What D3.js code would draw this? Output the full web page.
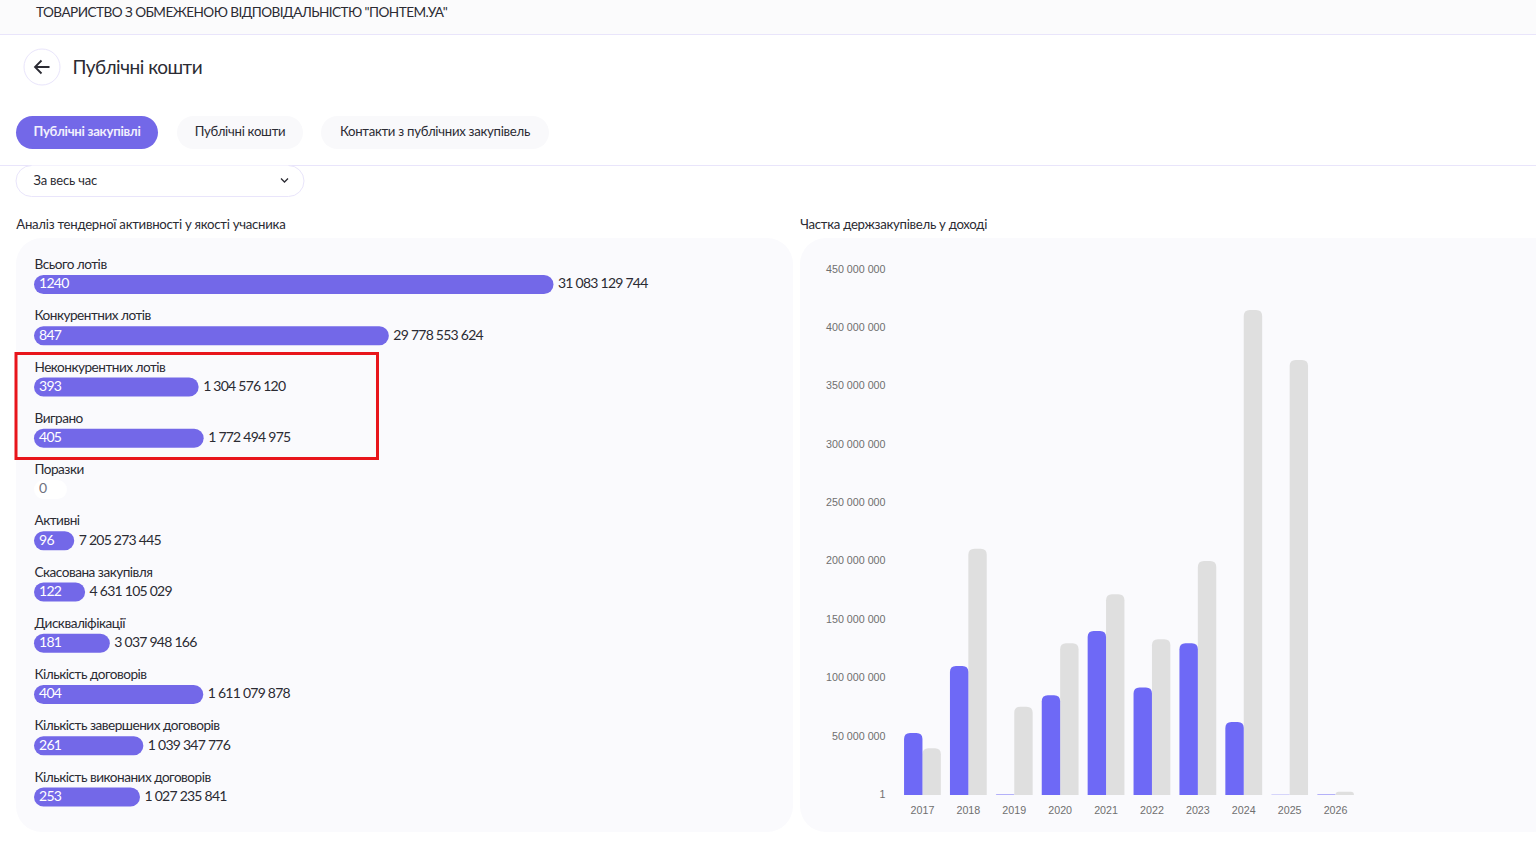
<!DOCTYPE html>
<html lang="uk">
<head>
<meta charset="UTF-8">
<title>Публічні кошти</title>
<script src="https://d3js.org/d3.v7.min.js"></script>
<style>
body { margin: 0; background: #fff; overflow: hidden; }
svg { display: block; }
text { font-family: Lato, sans-serif; fill: #2b2b33; }
.axis text { font-family: "Liberation Sans", Arial, sans-serif; font-size: 10.7px; fill: #6f6f6f; }
.axis path, .axis line { display: none; }
</style>
</head>
<body>
<svg id="page" width="1536" height="857"></svg>
<script>
// lots table
var rowLabels = ["Всього лотів", "Конкурентних лотів", "Неконкурентних лотів", "Виграно", "Поразки", "Активні",
    "Скасована закупівля", "Дискваліфікації", "Кількість договорів", "Кількість завершених договорів", "Кількість виконаних договорів"];
var rowCounts = [1240, 847, 393, 405, 0, 96, 122, 181, 404, 261, 253];
var rowAmounts = ["31 083 129 744", "29 778 553 624", "1 304 576 120", "1 772 494 975", "", "7 205 273 445",
    "4 631 105 029", "3 037 948 166", "1 611 079 878", "1 039 347 776", "1 027 235 841"];

// yearly chart
var years = ["2017", "2018", "2019", "2020", "2021", "2022", "2023", "2024", "2025", "2026"];
var tendersShare = [53000000, 110500000, 500000, 85500000, 140500000, 92000000, 130000000, 62500000, 300000, 400000];
var income = [40000000, 211000000, 75500000, 130000000, 172000000, 133500000, 200500000, 415500000, 372500000, 2700000];
var yTicks = [1, 50000000, 100000000, 150000000, 200000000, 250000000, 300000000, 350000000, 400000000, 450000000];

var tabs = ["Публічні закупівлі", "Публічні кошти", "Контакти з публічних закупівель"];

var svg = d3.select("#page");

// header
svg.append("rect").attr("width", 1536).attr("height", 34).attr("fill", "#fbfbfc");
svg.append("line").attr("x1", 0).attr("x2", 1536).attr("y1", 34.5).attr("y2", 34.5).attr("stroke", "#e9e5fb");
svg.append("text").attr("x", 36).attr("y", 17).attr("font-size", 13.6).attr("letter-spacing", -0.56)
    .text('ТОВАРИСТВО З ОБМЕЖЕНОЮ ВІДПОВІДАЛЬНІСТЮ "ПОНТЕМ.УА"');

svg.append("circle").attr("cx", 42).attr("cy", 67).attr("r", 18).attr("fill", "#fff").attr("stroke", "#e9e5fb");
svg.append("path").attr("d", "M49.5 67H35.5M41.5 60.5L35 67L41.5 73.5").attr("fill", "none").attr("stroke", "#2b2b33").attr("stroke-width", 1.8);
svg.append("text").attr("x", 72.5).attr("y", 74).attr("font-size", 19).attr("letter-spacing", -0.48).text("Публічні кошти");

// tabs
var tabX = [16, 177, 321];
var tabW = [142, 126, 228];
tabs.forEach(function(t, i) {
    svg.append("rect").attr("x", tabX[i]).attr("y", 116).attr("width", tabW[i]).attr("height", 33).attr("rx", 16.5)
        .attr("fill", i == 0 ? "#7368e8" : "#f9f9fb");
    svg.append("text").attr("x", tabX[i] + tabW[i] / 2).attr("y", 136).attr("text-anchor", "middle")
        .attr("font-size", 13.2).attr("letter-spacing", -0.28).attr("font-weight", i == 0 ? 700 : 400)
        .style("fill", i == 0 ? "#f1effd" : "#2b2b33").text(t);
});
svg.append("line").attr("x1", 0).attr("x2", 1536).attr("y1", 165.5).attr("y2", 165.5).attr("stroke", "#e9e5fb");

// period select
svg.append("path").attr("d", "M31.5 165.5A15.5 15.5 0 0 0 31.5 196.5H288.5A15.5 15.5 0 0 0 288.5 165.5").attr("fill", "#fff").attr("stroke", "#e9e5fb");
svg.append("text").attr("x", 33.5).attr("y", 185).attr("font-size", 13).attr("letter-spacing", -0.2).text("За весь час");
svg.append("path").attr("d", "M281 178.5L284.5 182L288 178.5").attr("fill", "none").attr("stroke", "#2b2b33").attr("stroke-width", 1.3);

svg.append("text").attr("x", 16.3).attr("y", 229).attr("font-size", 13.2).attr("letter-spacing", -0.27).text("Аналіз тендерної активності у якості учасника");
svg.append("text").attr("x", 800.3).attr("y", 229).attr("font-size", 13.2).attr("letter-spacing", -0.28).text("Частка держзакупівель у доході");

// panels
svg.append("rect").attr("x", 16).attr("y", 238).attr("width", 777).attr("height", 594).attr("rx", 26).attr("fill", "#fafafd");
svg.append("rect").attr("x", 800).attr("y", 238).attr("width", 780).attr("height", 594).attr("rx", 26).attr("fill", "#fafafd");

// left bars
var xCount = d3.scaleLinear().domain([0, 1240]).range([34, 553.5]);
var yRow = d3.scalePoint().domain(rowLabels).range([284.5, 797]);
var barH = 19;

var rows = svg.append("g").selectAll("g").data(rowLabels).enter().append("g")
    .attr("transform", function(d) { return "translate(0," + yRow(d) + ")"; });

rows.append("text").attr("x", 34.5).attr("y", -15.3).attr("font-size", 13.6).attr("letter-spacing", -0.5).text(function(d) { return d; });

rows.append("rect")
    .attr("x", xCount(0)).attr("y", -barH / 2).attr("height", barH).attr("rx", barH / 2)
    .attr("width", function(d, i) { return rowCounts[i] ? xCount(rowCounts[i]) - xCount(0) : 33; })
    .attr("fill", function(d, i) { return rowCounts[i] ? "#7368e8" : "#fff"; });

rows.append("text").attr("x", 39).attr("y", 3.8).attr("font-size", 14).attr("letter-spacing", -0.7)
    .style("fill", function(d, i) { return rowCounts[i] ? "#fff" : "#6f7280"; })
    .text(function(d, i) { return rowCounts[i]; });

rows.append("text").attr("y", 3.8).attr("font-size", 14).attr("letter-spacing", -0.75)
    .attr("x", function(d, i) { return xCount(rowCounts[i]) + 4.5; })
    .text(function(d, i) { return rowAmounts[i]; });

// right chart
var x0 = d3.scaleBand().domain(years).range([899.5, 1358.5]).paddingInner(0.0).paddingOuter(0);
var yVal = d3.scaleLinear().domain([0, 450000000]).range([795, 269.6]);
var barW = 18.4;

function topRound(xp, w, yTop, yBase) {
    var h = yBase - yTop;
    var r = Math.min(6, h, w / 2);
    return "M" + xp + "," + yBase + "V" + (yTop + r) + "Q" + xp + "," + yTop + " " + (xp + r) + "," + yTop +
        "H" + (xp + w - r) + "Q" + (xp + w) + "," + yTop + " " + (xp + w) + "," + (yTop + r) + "V" + yBase + "Z";
}

var groups = svg.append("g").selectAll("g").data(years).enter().append("g");

groups.append("path").attr("fill", "#dfdfdf").attr("d", function(d, i) {
    var c = x0(d) + x0.bandwidth() / 2;
    return topRound(c, barW, yVal(income[i]), yVal(0));
});
groups.append("path").attr("fill", "#6e69f6").attr("d", function(d, i) {
    var c = x0(d) + x0.bandwidth() / 2;
    return topRound(c - barW, barW, yVal(tendersShare[i]), yVal(0));
});

var fmt = function(v) { return d3.format(",")(v).replace(/,/g, " "); };

svg.append("g").attr("class", "axis").attr("transform", "translate(885.5,-1)")
    .call(d3.axisLeft(yVal).tickValues(yTicks).tickSize(0).tickPadding(0).tickFormat(fmt));

svg.append("g").attr("class", "axis").attr("transform", "translate(0,806)")
    .call(d3.axisBottom(x0).tickSize(0).tickPadding(0));

// highlight frame
svg.append("rect").attr("x", 16).attr("y", 353.5).attr("width", 361.5).attr("height", 105)
    .attr("fill", "none").attr("stroke", "#e8151b").attr("stroke-width", 3);
</script>
</body>
</html>
